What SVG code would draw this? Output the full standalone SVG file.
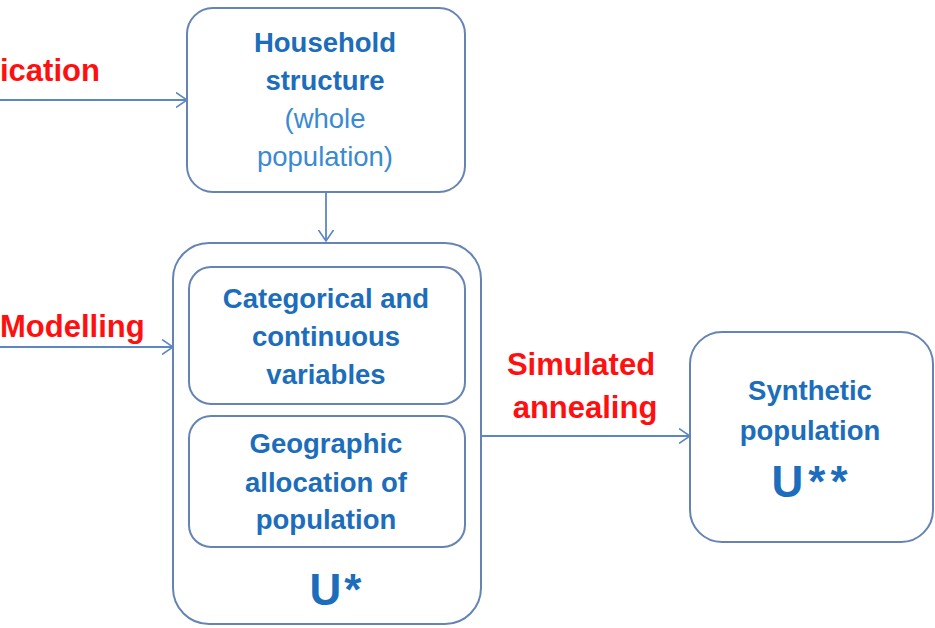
<svg xmlns="http://www.w3.org/2000/svg" width="935" height="628" viewBox="0 0 935 628">
<defs>
<marker id="arr" viewBox="0 0 12 16" refX="11.5" refY="8" markerWidth="12" markerHeight="16" markerUnits="userSpaceOnUse" orient="auto">
<path d="M0.5,0.5 L11.5,8 L0.5,15.5" fill="none" stroke="#5b87c5" stroke-width="1.6"/>
</marker>
<style>
.box{fill:#ffffff;stroke:#6584b4;stroke-width:2}
.conn{fill:none;stroke:#5b87c5;stroke-width:1.8;marker-end:url(#arr)}
.t{font-family:"Liberation Sans",Arial,sans-serif;font-weight:bold;font-size:27.5px;fill:#1c6dbb;text-anchor:middle}
.tl{font-family:"Liberation Sans",Arial,sans-serif;font-size:27.5px;fill:#3a8ad2;text-anchor:middle}
.r{font-family:"Liberation Sans",Arial,sans-serif;font-weight:bold;font-size:31px;fill:#ff1010}
.u{font-family:"Liberation Sans",Arial,sans-serif;font-weight:bold;font-size:44px;fill:#1c6dbb;text-anchor:middle}
</style>
</defs>
<rect width="935" height="628" fill="#ffffff"/>
<g id="connectors">
<line class="conn" x1="0" y1="100" x2="187" y2="100"/>
<line class="conn" x1="0" y1="347" x2="173" y2="347"/>
<line class="conn" x1="326" y1="192" x2="326" y2="241"/>
<line class="conn" x1="481" y1="436" x2="690" y2="436"/>
</g>
<g id="labels">
<text class="r" x="0" y="81">ication</text>
<text class="r" x="0" y="337">Modelling</text>
<text class="r" x="581" y="375" text-anchor="middle">Simulated</text>
<text class="r" x="585" y="418" text-anchor="middle">annealing</text>
</g>
<g id="household">
<rect class="box" x="187" y="8" width="278" height="184" rx="26"/>
<text class="t" x="325" y="52">Household</text>
<text class="t" x="325" y="90">structure</text>
<text class="tl" x="325" y="128">(whole</text>
<text class="tl" x="325" y="166">population)</text>
</g>
<g id="ustar">
<rect class="box" x="173" y="243" width="308" height="381" rx="36"/>
<text class="u" x="337" y="605" letter-spacing="3">U*</text>
</g>
<g id="categorical">
<rect class="box" x="189" y="267" width="276" height="137" rx="22"/>
<text class="t" x="326" y="308">Categorical and</text>
<text class="t" x="326" y="346">continuous</text>
<text class="t" x="326" y="384">variables</text>
</g>
<g id="geographic">
<rect class="box" x="189" y="416" width="276" height="131" rx="22"/>
<text class="t" x="326" y="453">Geographic</text>
<text class="t" x="326" y="492">allocation of</text>
<text class="t" x="326" y="529">population</text>
</g>
<g id="synthetic">
<rect class="box" x="690" y="332" width="243" height="210" rx="32"/>
<text class="t" x="810" y="400">Synthetic</text>
<text class="t" x="810" y="440">population</text>
<text class="u" x="812" y="497" letter-spacing="5">U**</text>
</g>
</svg>
